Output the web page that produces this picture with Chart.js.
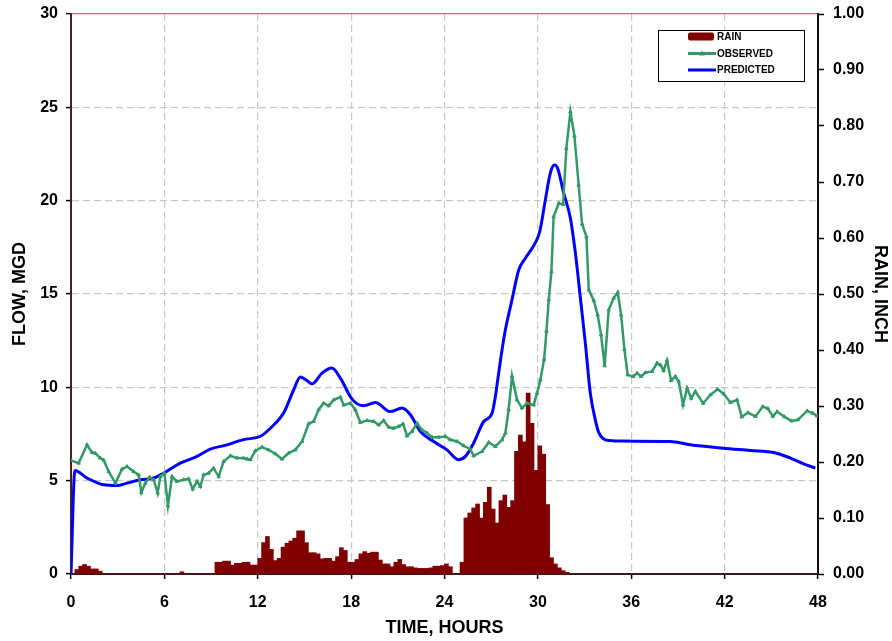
<!DOCTYPE html>
<html>
<head>
<meta charset="utf-8">
<script src="https://cdn.jsdelivr.net/npm/chart.js@4.4.0/dist/chart.umd.min.js"></script>
<style>
    body { margin: 0; background: #fff; }
</style>
</head>
<body>
<canvas id="MyChart" width="892" height="641"></canvas>
<script>
// rain, one value per 15 minutes starting at hour 0
var rainStep = 0.25;
var rainInch = [
    0, 0.008, 0.014, 0.017, 0.014, 0.009, 0.009, 0.005,
    0, 0, 0, 0, 0, 0, 0, 0, 0, 0, 0, 0, 0, 0, 0, 0, 0, 0, 0, 0,
    0.004, 0, 0, 0, 0, 0, 0, 0, 0,
    0.021, 0.021, 0.023, 0.023, 0.016, 0.019, 0.019, 0.021, 0.021, 0.016, 0.016,
    0.028, 0.056, 0.067, 0.044, 0.024, 0.028, 0.048, 0.055, 0.059, 0.064, 0.077, 0.077,
    0.056, 0.038, 0.038, 0.036, 0.027, 0.028, 0.028, 0.023, 0.031, 0.047, 0.042, 0.021,
    0.021, 0.026, 0.036, 0.040, 0.037, 0.039, 0.039, 0.025, 0.018, 0.018, 0.013, 0.021,
    0.026, 0.017, 0.013, 0.013, 0.011, 0.010, 0.010, 0.010, 0.011, 0.014, 0.014, 0.015,
    0.018, 0.013, 0, 0,
    0.021, 0.100, 0.109, 0.118, 0.125, 0.100, 0.128, 0.155, 0.116, 0.091, 0.131, 0.141,
    0.119, 0.131, 0.219, 0.248, 0.236, 0.323, 0.269, 0.185, 0.229, 0.214, 0.124, 0.029,
    0.018, 0.011, 0.006, 0.003
];

var obsHours = [0, 0.49, 1.03, 1.35, 1.56, 1.88, 2.1, 2.42, 2.85, 3.28, 3.6, 4.02, 4.35, 4.52, 4.78, 5.05, 5.31, 5.57, 5.74, 6.0,
    6.23, 6.49, 6.81, 7.24, 7.56, 7.82, 8.1, 8.31, 8.52, 8.84, 9.16, 9.49, 9.81, 10.24, 10.67, 11.09, 11.31, 11.52, 11.84, 12.27,
    12.7, 13.13, 13.56, 13.98, 14.41, 14.85, 15.27, 15.59, 15.91, 16.23, 16.56, 16.88, 17.31, 17.52, 17.95, 18.27, 18.59, 19.02, 19.45, 19.77,
    20.09, 20.41, 20.73, 21.05, 21.34, 21.59, 21.91, 22.24, 22.56, 22.88, 23.2, 23.62, 24.06, 24.38, 24.81, 25.23, 25.66, 25.87, 26.41, 26.84,
    27.27, 27.7, 27.91, 28.12, 28.34, 28.66, 28.98, 29.3, 29.73, 29.95, 30.16, 30.4, 30.55, 30.7, 30.87, 31.01, 31.34, 31.62, 31.83, 32.09,
    32.35, 32.62, 32.84, 33.12, 33.27, 33.59, 33.84, 34.06, 34.29, 34.55, 34.87, 35.13, 35.35, 35.56, 35.77, 36.12, 36.38, 36.63, 36.91, 37.34,
    37.66, 37.87, 38.08, 38.3, 38.56, 38.84, 39.05, 39.33, 39.59, 39.85, 40.12, 40.62, 41.09, 41.55, 41.94, 42.37, 42.8, 43.1, 43.5, 43.98,
    44.45, 44.78, 45.1, 45.37, 45.85, 46.3, 46.7, 47.3, 47.65, 47.94];
var obsFlow = [6.08, 5.94, 6.92, 6.51, 6.47, 6.21, 6.1, 5.49, 4.87, 5.62, 5.76, 5.49, 5.31, 4.37, 4.87, 5.19, 5.05, 4.34, 5.22, 5.4,
    3.66, 5.22, 4.96, 5.05, 5.1, 4.55, 4.96, 4.69, 5.31, 5.4, 5.67, 5.22, 6.03, 6.33, 6.21, 6.21, 6.16, 6.12, 6.6, 6.8,
    6.65, 6.44, 6.16, 6.48, 6.65, 7.1, 8.05, 8.17, 8.8, 9.15, 9.01, 9.33, 9.47, 9.05, 9.15, 8.8, 8.12, 8.22, 8.17, 7.99,
    8.22, 7.87, 7.81, 7.9, 8.04, 7.4, 7.64, 8.08, 7.72, 7.55, 7.33, 7.33, 7.37, 7.19, 7.1, 6.87, 6.69, 6.33, 6.56, 7.05,
    6.83, 7.19, 7.55, 8.8, 10.6, 9.33, 8.89, 9.15, 9.06, 9.69, 10.4, 11.5, 13.0, 14.7, 16.2, 19.14, 19.86, 19.8, 22.8, 24.77,
    23.46, 20.84, 18.75, 18.07, 15.22, 14.65, 13.88, 12.81, 11.15, 14.15, 14.78, 15.08, 13.88, 12.04, 10.67, 10.58, 10.76, 10.58, 10.79, 10.85,
    11.3, 11.2, 10.9, 11.44, 10.37, 10.58, 10.31, 9.06, 9.96, 9.42, 9.78, 9.15, 9.6, 9.9, 9.65, 9.19, 9.33, 8.42, 8.64, 8.44,
    8.97, 8.86, 8.45, 8.7, 8.42, 8.2, 8.26, 8.74, 8.62, 8.47];

var predHours = [0, 0.25, 1.03, 2.1, 2.96, 3.6, 4.45, 5.31, 5.95, 7.02, 8.1, 8.95, 10.03, 11.09, 12.17, 12.81, 13.66, 14.31, 14.74, 15.1,
    15.49, 16.13, 16.77, 17.31, 18.06, 18.8, 19.56, 20.52, 21.27, 21.81, 22.45, 23.3, 24.16, 24.91, 25.34, 25.87, 26.52, 27.06, 27.27, 27.42,
    27.85, 28.34, 28.77, 29.2, 29.84, 30.12, 30.48, 30.8, 31.06, 31.27, 31.66, 32.09, 32.41, 32.73, 33.05, 33.37, 33.69, 33.9, 34.2, 34.6,
    35.5, 38.5, 39.8, 41.9, 43.66, 45.15, 46.23, 47.08, 47.83];
var predFlow = [0, 5.55, 5.14, 4.78, 4.74, 4.87, 5.05, 5.14, 5.4, 5.94, 6.3, 6.69, 6.92, 7.2, 7.38, 7.81, 8.62, 9.87, 10.55, 10.4,
    10.19, 10.76, 11.03, 10.49, 9.37, 9.01, 9.19, 8.7, 8.89, 8.53, 7.63, 7.1, 6.65, 6.12, 6.3, 7.01, 8.17, 8.62, 9.51, 10.4,
    12.8, 14.7, 16.29, 16.92, 17.75, 18.34, 20.04, 21.47, 21.91, 21.73, 20.4, 19.06, 17.2, 14.8, 12.37, 9.69, 8.26, 7.6, 7.25, 7.15,
    7.12, 7.1, 6.92, 6.74, 6.62, 6.51, 6.21, 5.9, 5.67];

var seriesNames = ['RAIN', 'OBSERVED', 'PREDICTED'];

var rainData = [];
for (var i = 0; i < rainInch.length; i++) {
    rainData.push({ x: i * rainStep + rainStep / 2, y: rainInch[i] });
}
var obsData = obsHours.map(function (h, i) { return { x: h, y: obsFlow[i] }; });
var predData = predHours.map(function (h, i) { return { x: h, y: predFlow[i] }; });

var tickFont = { family: '"Liberation Sans", Arial, sans-serif', size: 16, weight: 'bold' };
// small line height so the top label does not push the plot down
var yTickFont = { family: '"Liberation Sans", Arial, sans-serif', size: 16, weight: 'bold', lineHeight: 0.5 };
var titleFont = { family: '"Liberation Sans", Arial, sans-serif', size: 18, weight: 'bold' };

// legend box drawn in the upper right of the plot
var boxLegend = {
    id: 'boxLegend',
    afterDraw: function (chart) {
        var c = chart.ctx;
        var ds = chart.data.datasets;
        c.save();
        c.fillStyle = '#fff';
        c.fillRect(658, 30, 147, 51);
        c.strokeStyle = '#000';
        c.lineWidth = 1;
        c.strokeRect(658.5, 30.5, 146, 51);
        c.font = 'bold 10px "Liberation Sans", Arial, sans-serif';
        c.textBaseline = 'middle';
        var rows = [36.5, 53.5, 70];
        // rain swatch
        c.fillStyle = ds[0].backgroundColor;
        c.beginPath();
        c.roundRect(688, 32.5, 26, 8, 2);
        c.fill();
        // observed
        c.strokeStyle = ds[1].borderColor;
        c.lineWidth = 3;
        c.beginPath(); c.moveTo(688, rows[1]); c.lineTo(716, rows[1]); c.stroke();
        c.fillStyle = ds[1].borderColor;
        c.beginPath(); c.moveTo(702, rows[1] - 3); c.lineTo(705, rows[1] + 2); c.lineTo(699, rows[1] + 2); c.closePath(); c.fill();
        // predicted
        c.strokeStyle = ds[2].borderColor;
        c.beginPath(); c.moveTo(688, rows[2]); c.lineTo(716, rows[2]); c.stroke();
        c.fillStyle = '#000';
        for (var k = 0; k < seriesNames.length; k++) {
            c.fillText(seriesNames[k], 717, rows[k] + 0.5);
        }
        c.restore();
    }
};

var ctx = document.getElementById('MyChart').getContext('2d');
var config = {
    type: 'line',
    data: {
        datasets: [
            {
                type: 'bar',
                label: 'RAIN',
                data: rainData,
                yAxisID: 'y2',
                backgroundColor: '#800000',
                borderWidth: 0,
                barPercentage: 1,
                categoryPercentage: 1,
                barThickness: 4,
                grouped: false,
                order: 3
            },
            {
                label: 'OBSERVED',
                data: obsData,
                yAxisID: 'y',
                borderColor: '#339966',
                backgroundColor: '#339966',
                borderWidth: 2.5,
                pointStyle: 'triangle',
                pointRadius: 2,
                pointBorderWidth: 1,
                tension: 0,
                order: 1
            },
            {
                label: 'PREDICTED',
                data: predData,
                yAxisID: 'y',
                borderColor: '#0000ff',
                borderWidth: 3,
                pointRadius: 0,
                cubicInterpolationMode: 'monotone',
                order: 2
            }
        ]
    },
    options: {
        responsive: false,
        animation: false,
        devicePixelRatio: 1,
        layout: { padding: { top: 14, left: 0, right: 0, bottom: 0 } },
        plugins: {
            legend: { display: false },
            tooltip: { enabled: false }
        },
        scales: {
            x: {
                type: 'linear',
                min: 0,
                max: 48,
                offset: false,
                ticks: { stepSize: 6, color: '#000', font: tickFont, padding: 14, maxRotation: 0 },
                grid: {
                    offset: false,
                    color: function (c) { return (c.tick && (c.tick.value === 0 || c.tick.value === 48)) ? 'rgba(0,0,0,0)' : '#c8c8c8'; },
                    lineWidth: 1.2,
                    tickLength: 5,
                    tickColor: '#000',
                    tickWidth: 1.5
                },
                border: { display: true, color: '#3a1a1a', width: 2, dash: [7, 4] },
                title: { display: true, text: 'TIME, HOURS', color: '#000', font: titleFont, padding: { top: 4, bottom: 2 } },
                afterFit: function (s) { s.height = 67; }
            },
            y: {
                position: 'left',
                min: 0,
                max: 30,
                ticks: { stepSize: 5, color: '#000', font: yTickFont, padding: 8 },
                grid: {
                    color: function (c) {
                        if (!c.tick) return '#c8c8c8';
                        if (c.tick.value === 0) return 'rgba(0,0,0,0)';
                        if (c.tick.value === 30) return '#c07070';
                        return '#c8c8c8';
                    },
                    lineWidth: 1.2,
                    tickLength: 5,
                    tickColor: '#000',
                    tickWidth: 1.5
                },
                border: {
                    display: true, color: '#4a2020', width: 2,
                    dash: function (c) { return (c.tick && c.tick.value === 30) ? [] : [7, 4]; }
                },
                title: { display: true, text: 'FLOW, MGD', color: '#000', font: titleFont, padding: { top: 9, bottom: 0 } },
                afterFit: function (s) { s.width = 71; }
            },
            y2: {
                position: 'right',
                min: 0,
                max: 1,
                ticks: {
                    stepSize: 0.1, color: '#000', font: yTickFont, padding: 9,
                    callback: function (v) { return Number(v).toFixed(2); }
                },
                grid: { drawOnChartArea: false, tickLength: 6, tickColor: '#000', tickWidth: 1.5 },
                border: { display: true, color: '#1a0a0a', width: 2 },
                title: { display: true, text: 'RAIN, INCH', color: '#000', font: titleFont, padding: { top: 1, bottom: 0 } },
                afterFit: function (s) { s.width = 74; }
            }
        }
    },
    plugins: [boxLegend]
};
var flowChart = new Chart(ctx, config);
</script>
</body>
</html>
